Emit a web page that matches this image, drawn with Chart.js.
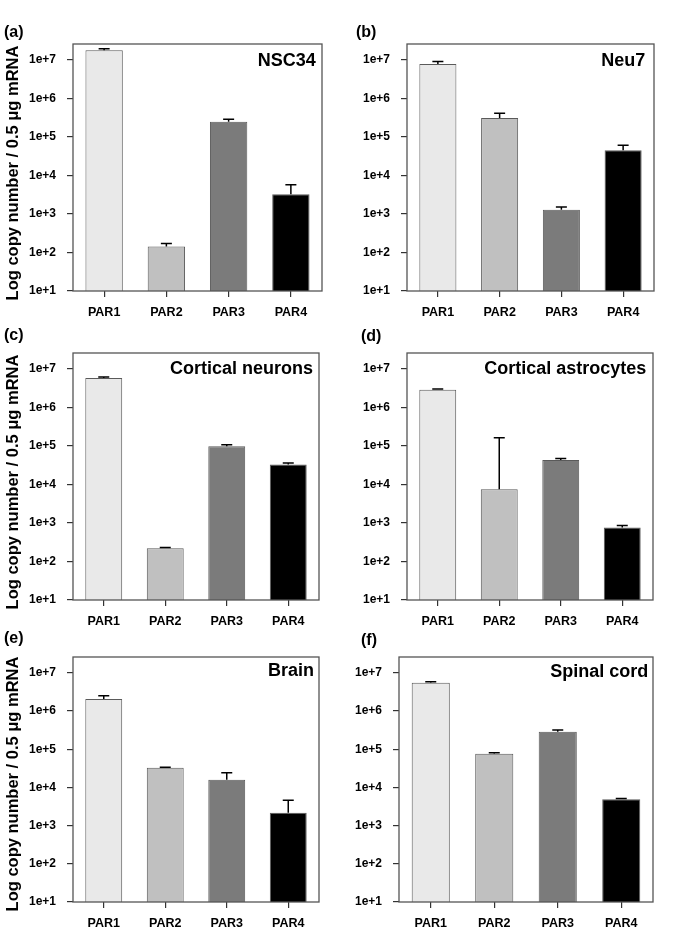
<!DOCTYPE html>
<html lang="en">
<head>
<meta charset="UTF-8">
<title>PAR mRNA copy number</title>
<script src="https://cdn.jsdelivr.net/npm/chart.js@4.4.1/dist/chart.umd.min.js"></script>
<style>
    body { margin: 0; background: #fff; }
    #page { position: relative; width: 681px; height: 946px; font-family: "Liberation Sans", Arial, sans-serif; font-weight: bold; color: #000; }
    canvas { position: absolute; }
    .letter { position: absolute; font-size: 16px; transform: translateY(-50%); }
    .title { position: absolute; font-size: 18px; white-space: nowrap; transform: translate(-100%, -50%); }
    .ytitle { position: absolute; white-space: nowrap; transform: translate(-50%, -50%) rotate(-90deg); }
</style>
</head>
<body>
<div id="page"></div>

<script>
    // data (bar = mean, err = top of error bar)
    const categories = ['PAR1', 'PAR2', 'PAR3', 'PAR4'];
    const barColors = ['#e9e9e9', '#c0c0c0', '#7b7b7b', '#000000'];
    const yTicks = [1e1, 1e2, 1e3, 1e4, 1e5, 1e6, 1e7];
    const yTickLabels = ['1e+1', '1e+2', '1e+3', '1e+4', '1e+5', '1e+6', '1e+7'];
    const yTitle = 'Log copy number / 0.5 \u03bcg mRNA';

    const nsc34 = [1.79e7, 144, 2.47e5, 3280];
    const nsc34Err = [1.97e7, 172, 2.9e5, 5730];
    const neu7 = [7.9e6, 3.13e5, 1290, 4.55e4];
    const neu7Err = [9.1e6, 4.14e5, 1510, 6.12e4];
    const corticalNeurons = [5.84e6, 221, 9.9e4, 3.31e4];
    const corticalNeuronsErr = [6.2e6, 230, 1.08e5, 3.59e4];
    const corticalAstro = [2.9e6, 7570, 4.3e4, 762];
    const corticalAstroErr = [3.0e6, 1.64e5, 4.74e4, 860];
    const brain = [2.06e6, 3.29e4, 1.6e4, 2170];
    const brainErr = [2.52e6, 3.35e4, 2.44e4, 4630];
    const spinalCord = [5.48e6, 7.6e4, 2.85e5, 4920];
    const spinalCordErr = [5.82e6, 8.07e4, 3.21e5, 5120];

    // box = plot frame in page pixels [left, top, right, bottom]
    const panels = [
        { letter: '(a)', title: 'NSC34', values: nsc34, errs: nsc34Err, box: [72.7, 44.3, 321.7, 291.7], lx: 4, ly: 32, ty: 60, tin: 6, yt: [12, 173] },
        { letter: '(b)', title: 'Neu7', values: neu7, errs: neu7Err, box: [406.7, 44.3, 653.3, 291.7], lx: 356, ly: 32, ty: 60, tin: 8 },
        { letter: '(c)', title: 'Cortical neurons', values: corticalNeurons, errs: corticalNeuronsErr, box: [72.7, 353.3, 319, 600], lx: 4, ly: 335, ty: 368, tin: 6, yt: [12, 482] },
        { letter: '(d)', title: 'Cortical astrocytes', values: corticalAstro, errs: corticalAstroErr, box: [406.7, 353.3, 652.3, 600], lx: 361, ly: 336, ty: 368, tin: 6 },
        { letter: '(e)', title: 'Brain', values: brain, errs: brainErr, box: [72.7, 657.3, 319, 902.7], lx: 4, ly: 638, ty: 670, tin: 5, yt: [12, 784] },
        { letter: '(f)', title: 'Spinal cord', values: spinalCord, errs: spinalCordErr, box: [398.7, 657.3, 652.3, 902.7], lx: 361, ly: 640, ty: 671, tin: 4 }
    ];

    // PAD_T must stay above the y scale's own top padding (label half height + tick padding)
    const Y_W = 60, PAD_T = 24, PAD_R = 8, X_H = 32;
    const font = { family: '"Liberation Sans", Arial, sans-serif', weight: 'bold' };

    // full frame round the plot area
    const framePlugin = {
        id: 'frame',
        afterDraw(chart) {
            const a = chart.chartArea, ctx = chart.ctx;
            ctx.save();
            ctx.strokeStyle = '#555';
            ctx.lineWidth = 1.3;
            ctx.strokeRect(a.left, a.top, a.right - a.left, a.bottom - a.top);
            ctx.restore();
        }
    };

    // upper error bars with caps
    const errorPlugin = {
        id: 'errbars',
        afterDatasetsDraw(chart, args, opts) {
            const ctx = chart.ctx, y = chart.scales.y;
            const meta = chart.getDatasetMeta(0);
            ctx.save();
            ctx.strokeStyle = '#000';
            ctx.lineWidth = 1.5;
            meta.data.forEach((bar, i) => {
                const y0 = y.getPixelForValue(chart.data.datasets[0].data[i]);
                const y1 = y.getPixelForValue(opts.errs[i]);
                ctx.beginPath();
                ctx.moveTo(bar.x, y0);
                ctx.lineTo(bar.x, y1);
                ctx.moveTo(bar.x - 5.5, y1);
                ctx.lineTo(bar.x + 5.5, y1);
                ctx.stroke();
            });
            ctx.restore();
        }
    };

    const page = document.getElementById('page');

    function addDiv(cls, text, left, top, size) {
        const d = document.createElement('div');
        d.className = cls;
        d.textContent = text;
        d.style.left = left + 'px';
        d.style.top = top + 'px';
        if (size) d.style.fontSize = size + 'px';
        page.appendChild(d);
    }

    panels.forEach(p => {
        const [L, T, R, B] = p.box;
        const canvas = document.createElement('canvas');
        const w = Math.round(R - L + Y_W + PAD_R);
        const h = Math.round(B - T + PAD_T + X_H);
        canvas.width = w;
        canvas.height = h;
        canvas.style.left = (L - Y_W) + 'px';
        canvas.style.top = (T - PAD_T) + 'px';
        page.appendChild(canvas);

        new Chart(canvas.getContext('2d'), {
            type: 'bar',
            data: {
                labels: categories,
                datasets: [{
                    data: p.values,
                    backgroundColor: barColors,
                    borderColor: '#5a5a5a',
                    borderWidth: 1,
                    barPercentage: 0.6,
                    categoryPercentage: 1.0
                }]
            },
            options: {
                responsive: false,
                animation: false,
                devicePixelRatio: 1,
                layout: { padding: { top: PAD_T, right: PAD_R, left: 0, bottom: 0 } },
                plugins: {
                    legend: { display: false },
                    tooltip: { enabled: false },
                    errbars: { errs: p.errs }
                },
                scales: {
                    x: {
                        grid: { display: true, drawOnChartArea: false, drawTicks: true, tickLength: 6, offset: false, color: '#333', lineWidth: 1.2 },
                        border: { display: false },
                        ticks: { color: '#000', font: Object.assign({ size: 12.5 }, font), padding: 8, maxRotation: 0 },
                        afterFit(s) { s.height = X_H; }
                    },
                    y: {
                        type: 'logarithmic',
                        min: 10,
                        max: 2.6e7,
                        grid: { display: true, drawOnChartArea: false, drawTicks: true, tickLength: 6, color: '#333', lineWidth: 1.2 },
                        border: { display: false },
                        afterBuildTicks(s) { s.ticks = yTicks.map(v => ({ value: v })); },
                        ticks: {
                            color: '#000',
                            font: Object.assign({ size: 12 }, font),
                            padding: 11,
                            callback: (v) => yTickLabels[yTicks.indexOf(v)]
                        },
                        afterFit(s) { s.width = Y_W; }
                    }
                }
            },
            plugins: [framePlugin, errorPlugin]
        });

        addDiv('letter', p.letter, p.lx, p.ly);
        addDiv('title', p.title, R - p.tin, p.ty);
        if (p.yt) addDiv('ytitle', yTitle, p.yt[0], p.yt[1], 16.5);
    });
</script>
</body>
</html>
